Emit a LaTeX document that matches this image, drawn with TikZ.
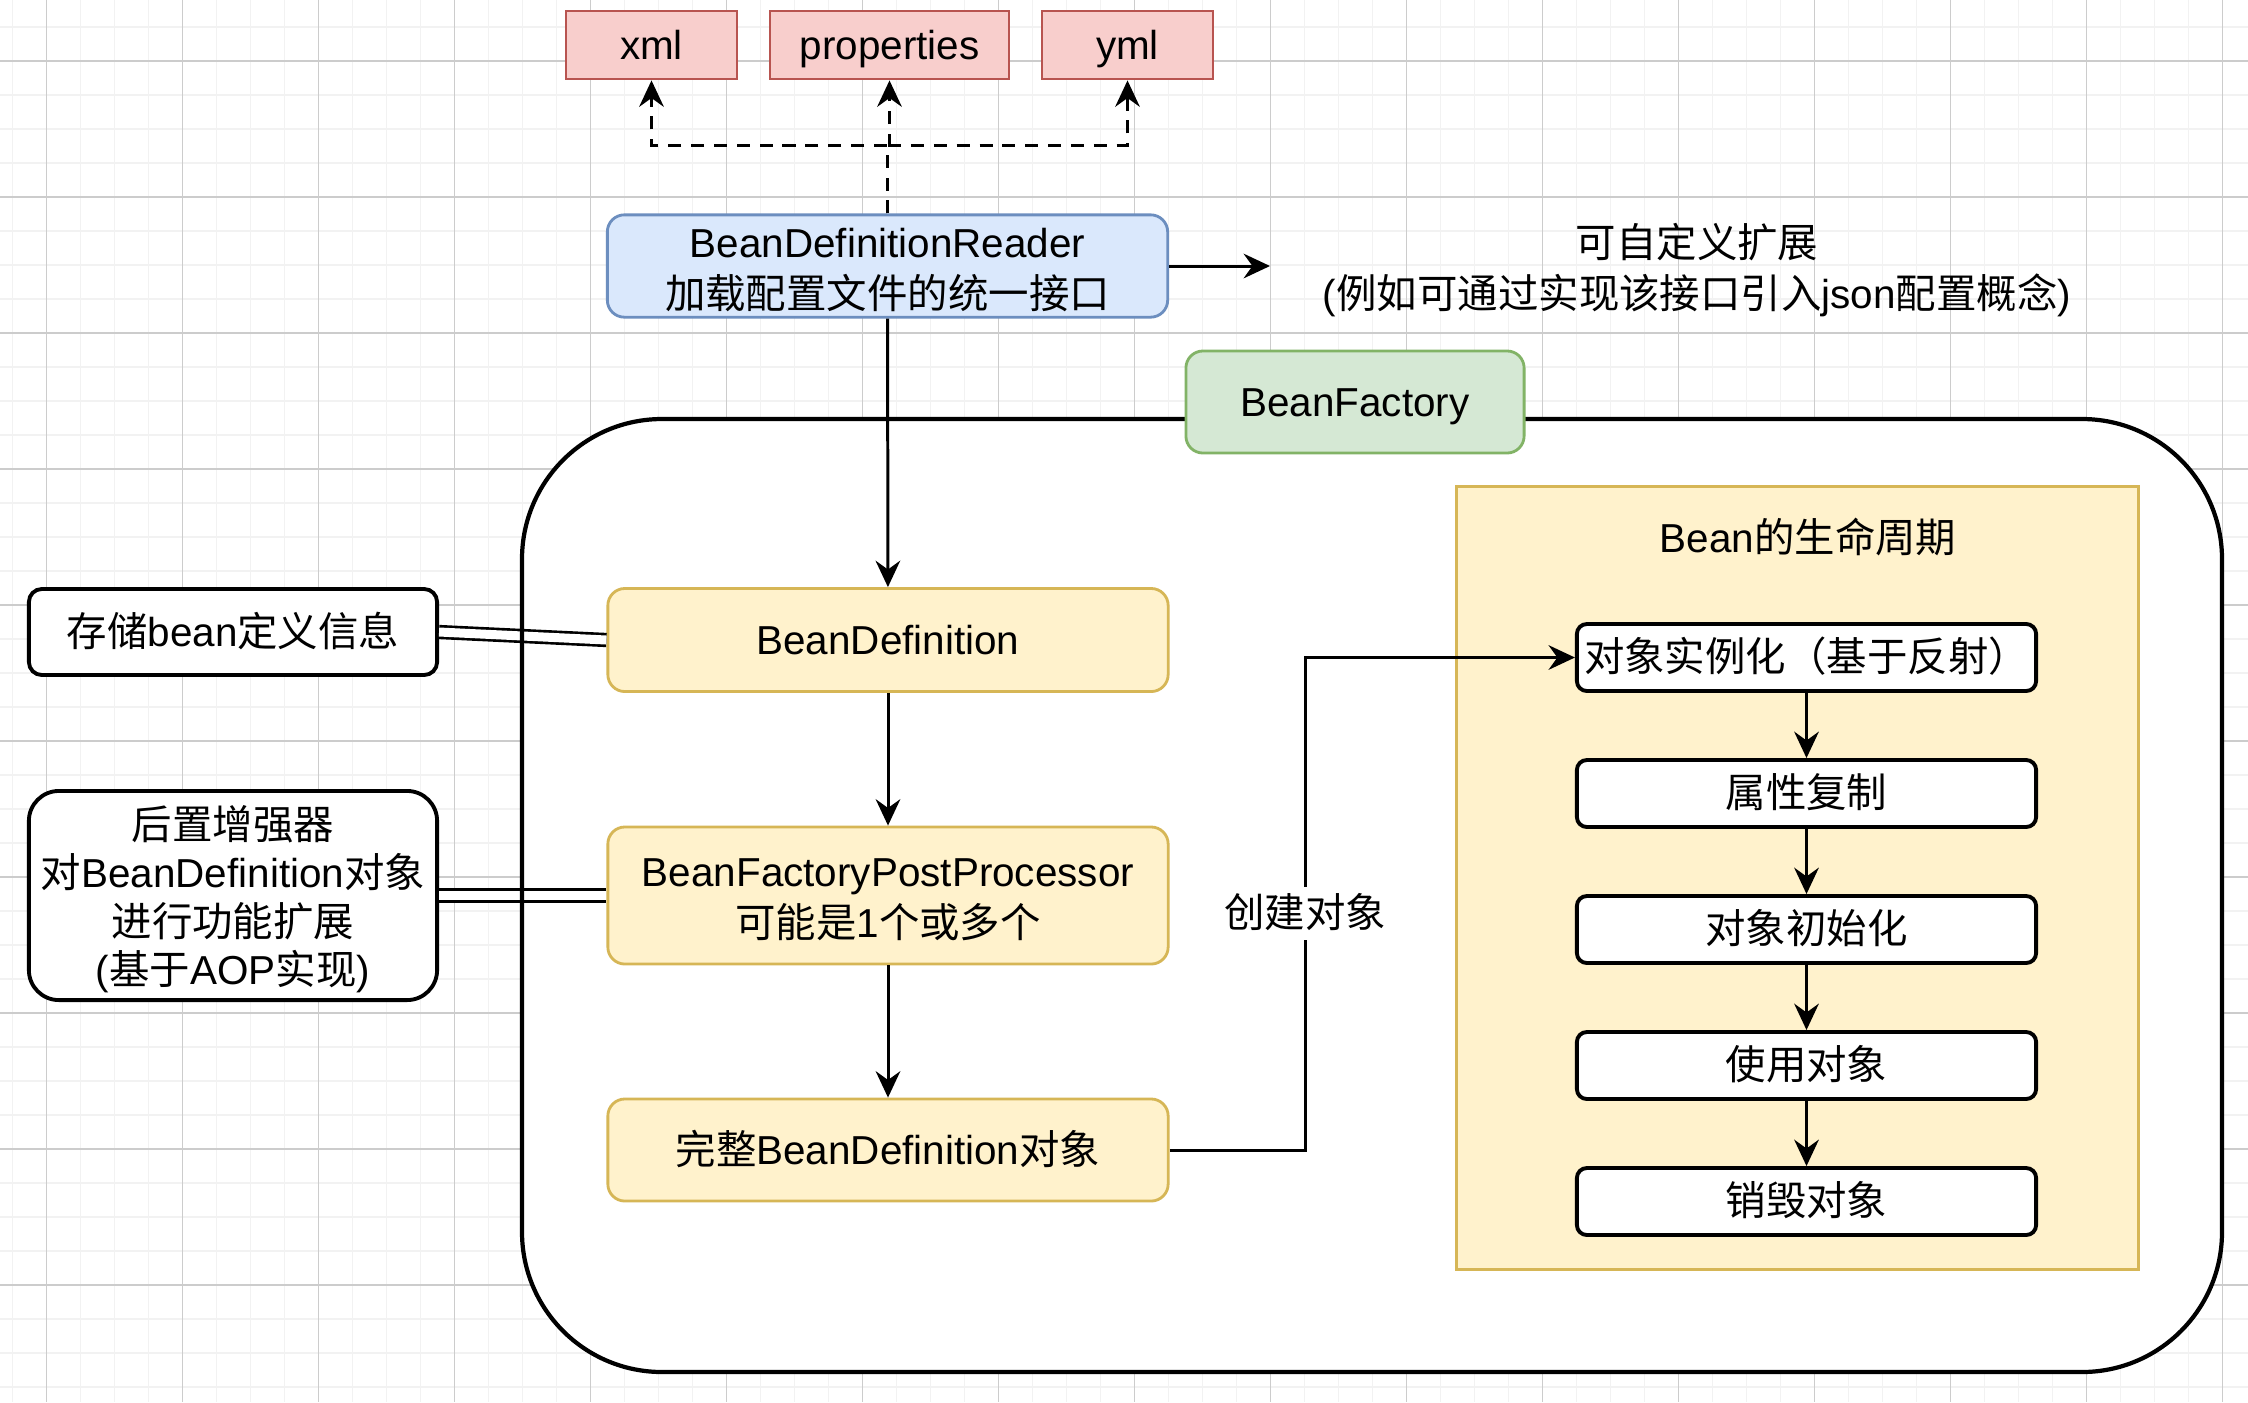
\documentclass[tikz,border=0pt]{standalone}
\usepackage{fontspec}
\setmainfont{Liberation Sans}
\newfontfamily\zhfont{Noto Sans CJK SC}
\newcommand{\zh}[1]{{\zhfont #1}}
\newcommand{\linestrut}{\rule[-2.6pt]{0pt}{13.2pt}}
\newcommand{\firststrut}{\rule{0pt}{12pt}}
\usetikzlibrary{arrows.meta}
\definecolor{redfill}{HTML}{F8CECC}
\definecolor{redline}{HTML}{B85450}
\definecolor{bluefill}{HTML}{DAE8FC}
\definecolor{blueline}{HTML}{6C8EBF}
\definecolor{greenfill}{HTML}{D5E8D4}
\definecolor{greenline}{HTML}{82B366}
\definecolor{yellowfill}{HTML}{FFF2CC}
\definecolor{yellowline}{HTML}{D6B656}
\begin{document}
\begin{tikzpicture}[x=0.01cm,y=-0.01cm,
  every node/.style={font=\fontsize{11.5}{14.5}\selectfont, align=center, inner sep=0pt,
    execute at begin node=\linestrut, execute at end node=\linestrut},
  minorline/.style={line width=0.4pt, black!5},
  majorline/.style={line width=0.3pt, black!20},
  filebox/.style={draw=redline, fill=redfill, line width=0.8pt, minimum height=0.68cm},
  readerbox/.style={draw=blueline, fill=bluefill, line width=0.8pt, rounded corners=0.17cm, minimum width=5.6cm, minimum height=1.02cm},
  factorybox/.style={draw=greenline, fill=greenfill, line width=0.8pt, rounded corners=0.17cm, minimum width=3.38cm, minimum height=1.02cm},
  defbox/.style={draw=yellowline, fill=yellowfill, line width=0.8pt, rounded corners=0.17cm, minimum width=5.6cm},
  notebox/.style={draw, fill=white, line width=1.1pt, minimum width=4.08cm},
  stagebox/.style={draw, fill=white, line width=1.1pt, rounded corners=0.1cm, minimum width=4.59cm, minimum height=0.67cm},
  conn/.style={line width=0.85pt, -{Stealth[length=7.5pt,width=7pt,inset=2.5pt]}},
  dashconn/.style={conn, dash pattern=on 3.7pt off 2.8pt},
  linkline/.style={double, line width=0.75pt, double distance=0.09cm},
]
\useasboundingbox (0,0) rectangle (2248,1402);
\fill[white] (0,0) rectangle (2248,1402);
% grid
\foreach \gx in {12.7,46.7,...,2248} \draw[minorline] (\gx,0) -- (\gx,1402);
\foreach \gy in {27,61,...,1402} \draw[minorline] (0,\gy) -- (2248,\gy);
\foreach \gx in {46.7,182.7,...,2248} \draw[majorline] (\gx,0) -- (\gx,1402);
\foreach \gy in {61,197,...,1402} \draw[majorline] (0,\gy) -- (2248,\gy);

% config files
\node[filebox, minimum width=1.71cm] (xml) at (651.5,45) {xml};
\node[filebox, minimum width=2.39cm] (props) at (889.5,45) {properties};
\node[filebox, minimum width=1.71cm] (yml) at (1127.5,45) {yml};

\node[readerbox] (reader) at (887.5,266) {\firststrut BeanDefinitionReader\\\zh{加载配置文件的统一接口}};
\foreach \t in {xml,props,yml}
  \draw[dashconn] (reader.north) -- ++(0,-68) -| (\t.south);

\coordinate (ext) at (1270,266);
\draw[conn] (reader.east) -- (ext);
\node (exttext) at (1697,266.5) {\firststrut\zh{可自定义扩展}\\(\zh{例如可通过实现该接口引入}json\zh{配置概念})};

% bean factory
\fill[white, rounded corners=1.4cm] (522,419) rectangle (2222,1372);

\node[defbox, minimum height=1.03cm] (bd) at (888,640) {BeanDefinition};
\node[defbox, minimum height=1.37cm] (bfpp) at (888,895.5) {\firststrut BeanFactoryPostProcessor\\\zh{可能是}1\zh{个或多个}};
\node[defbox, minimum height=1.02cm] (done) at (888,1150) {\zh{完整}BeanDefinition\zh{对象}};

\node[notebox, rounded corners=0.13cm, minimum height=0.86cm] (store) at (233,632) {\zh{存储}bean\zh{定义信息}};
\node[notebox, rounded corners=0.3cm, minimum height=2.09cm, font=\fontsize{11.5}{13.7}\selectfont] (post) at (233,895.5) {\firststrut\zh{后置增强器}\\\zh{对}BeanDefinition\zh{对象}\\\zh{进行功能扩展}\\(\zh{基于}AOP\zh{实现})};
\draw[linkline] (store.east) -- (bd.west);
\draw[linkline] (post.east) -- (bfpp.west);

\draw[line width=1.2pt, rounded corners=1.4cm] (522,419) rectangle (2222,1372);
\node[factorybox] (factory) at (1355,402) {BeanFactory};

\draw[conn] (reader) -- (bd);
\draw[conn] (bd) -- (bfpp);
\draw[conn] (bfpp) -- (done);

% life cycle
\node[draw=yellowline, fill=yellowfill, line width=0.8pt, minimum width=6.81cm, minimum height=7.82cm] (cycle) at (1797.5,878) {};
\node (cycletitle) at (1808,538) {Bean\zh{的生命周期}};
\foreach \nm/\txt [count=\k from 0] in {inst/对象实例化（基于反射）, fill/属性复制, ready/对象初始化, work/使用对象, gone/销毁对象}
  \node[stagebox] (\nm) at (1806.5,657.5+136*\k) {\zh{\txt}};
\foreach \a/\b in {inst/fill, fill/ready, ready/work, work/gone}
  \draw[conn] (\a) -- (\b);

\coordinate (bend) at (1305,1150);
\draw[conn] (done.east) -- (bend) |- node[pos=0.24, fill=white, inner sep=1pt] (make) {\zh{创建对象}} (inst.west);
\end{tikzpicture}
\end{document}
